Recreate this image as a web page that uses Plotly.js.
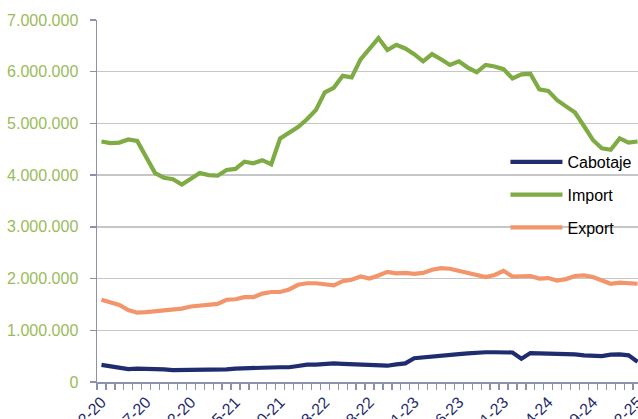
<!DOCTYPE html>
<html>
<head>
<meta charset="utf-8">
<script src="https://cdn.plot.ly/plotly-3.0.1.min.js"></script>
<style>html,body{margin:0;padding:0;background:#fff;}#chart{width:638px;height:419px;}</style>
</head>
<body>
<div id="chart"></div>
<script>
// Months Feb 2020 .. Feb 2025 (label format M-YY)
const months = [
 "2-20","3-20","4-20","5-20","6-20","7-20","8-20","9-20","10-20","11-20","12-20",
 "1-21","2-21","3-21","4-21","5-21","6-21","7-21","8-21","9-21","10-21","11-21","12-21",
 "1-22","2-22","3-22","4-22","5-22","6-22","7-22","8-22","9-22","10-22","11-22","12-22",
 "1-23","2-23","3-23","4-23","5-23","6-23","7-23","8-23","9-23","10-23","11-23","12-23",
 "1-24","2-24","3-24","4-24","5-24","6-24","7-24","8-24","9-24","10-24","11-24","12-24",
 "1-25","2-25"
];
const cabotaje = [
 330000,300000,270000,250000,260000,260000,260000,245000,230000,230000,240000,
 245000,240000,230000,245000,260000,260000,270000,280000,280000,285000,285000,310000,
 335000,335000,355000,360000,350000,345000,330000,315000,310000,315000,340000,360000,
 460000,480000,480000,500000,530000,540000,555000,570000,575000,575000,575000,570000,
 450000,560000,555000,555000,540000,540000,535000,515000,500000,500000,530000,535000,
 515000,390000
];
const importV = [
 4650000,4620000,4630000,4690000,4660000,4360000,4040000,3950000,3920000,3820000,3940000,
 4040000,4000000,3990000,4100000,4120000,4260000,4230000,4290000,4210000,4710000,4810000,4930000,
 5080000,5260000,5600000,5690000,5920000,5890000,6240000,6430000,6650000,6420000,6520000,6450000,
 6340000,6200000,6340000,6240000,6130000,6200000,6080000,5990000,6130000,6100000,6050000,5870000,
 5950000,5960000,5660000,5630000,5450000,5330000,5210000,4950000,4680000,4520000,4490000,4710000,
 4630000,4650000
];
const exportV = [
 1590000,1550000,1490000,1390000,1340000,1350000,1370000,1380000,1390000,1420000,1460000,
 1480000,1480000,1510000,1590000,1600000,1640000,1640000,1710000,1740000,1740000,1790000,1880000,
 1910000,1910000,1890000,1870000,1950000,1980000,2040000,2000000,2060000,2130000,2100000,2110000,
 2090000,2110000,2170000,2200000,2190000,2150000,2100000,2080000,2030000,2070000,2150000,2040000,
 2040000,2050000,2000000,2010000,1960000,1990000,2050000,2060000,2030000,1960000,1900000,1920000,
 1900000,1900000
];
const seriesNames = ["Cabotaje","Import","Export"];
const yTicks = [0,1000000,2000000,3000000,4000000,5000000,6000000,7000000];

const colors = ["#1F2C6E","#7EAB43","#F3956B"];
const values = [cabotaje, importV, exportV];
const traces = seriesNames.map((n,k)=>({
  type:"scatter", mode:"lines", name:n, x:months, y:values[k],
  legendgroup:"g"+k,
  line:{color:colors[k], width:4.2, shape:"linear"},
  hoverinfo:"skip"
}));

const tickText = months.map((m,i)=> i%5===0 ? m : "");

const layout = {
  width:638, height:419,
  margin:{l:97, r:0, t:20, b:37, pad:0},
  paper_bgcolor:"#fff", plot_bgcolor:"#fff",
  separators:",.",
  font:{family:"Liberation Sans, Arial, sans-serif", size:16, color:"#000"},
  showlegend:true,
  legend:{x:0.755, xanchor:"left", y:0.655, yanchor:"top",
          bgcolor:"rgba(0,0,0,0)", borderwidth:0, tracegroupgap:9,
          traceorder:"grouped", itemwidth:52,
          font:{family:"Liberation Sans, Arial, sans-serif", size:16, color:"#000"}},
  xaxis:{type:"category", range:[-0.5, 60.05], tickmode:"array", tickvals:months, ticktext:tickText,
         tickson:"boundaries", ticks:"outside", ticklen:6, tickcolor:"#8E91AA", tickwidth:1.3,
         showline:true, linecolor:"#8E91AA", linewidth:1.5, showgrid:false, zeroline:false,
         ticklabelstandoff:3,
         tickangle:-45, tickfont:{family:"Liberation Sans, Arial, sans-serif", size:16, color:"#1F2C6E"}},
  yaxis:{range:[0,7000000], tickmode:"array", tickvals:yTicks, tickformat:",d",
         ticks:"outside", ticklen:6, tickcolor:"#8E91AA", tickwidth:1.3,
         showline:true, linecolor:"#8E91AA", linewidth:1.5,
         showgrid:true, gridcolor:"#C6C6C6", gridwidth:1.3, zeroline:false,
         ticklabelstandoff:8,
         tickfont:{family:"Liberation Sans, Arial, sans-serif", size:16, color:"#9BBB59"}}
};
Plotly.newPlot("chart", traces, layout, {displayModeBar:false, staticPlot:true});
</script>
</body>
</html>
